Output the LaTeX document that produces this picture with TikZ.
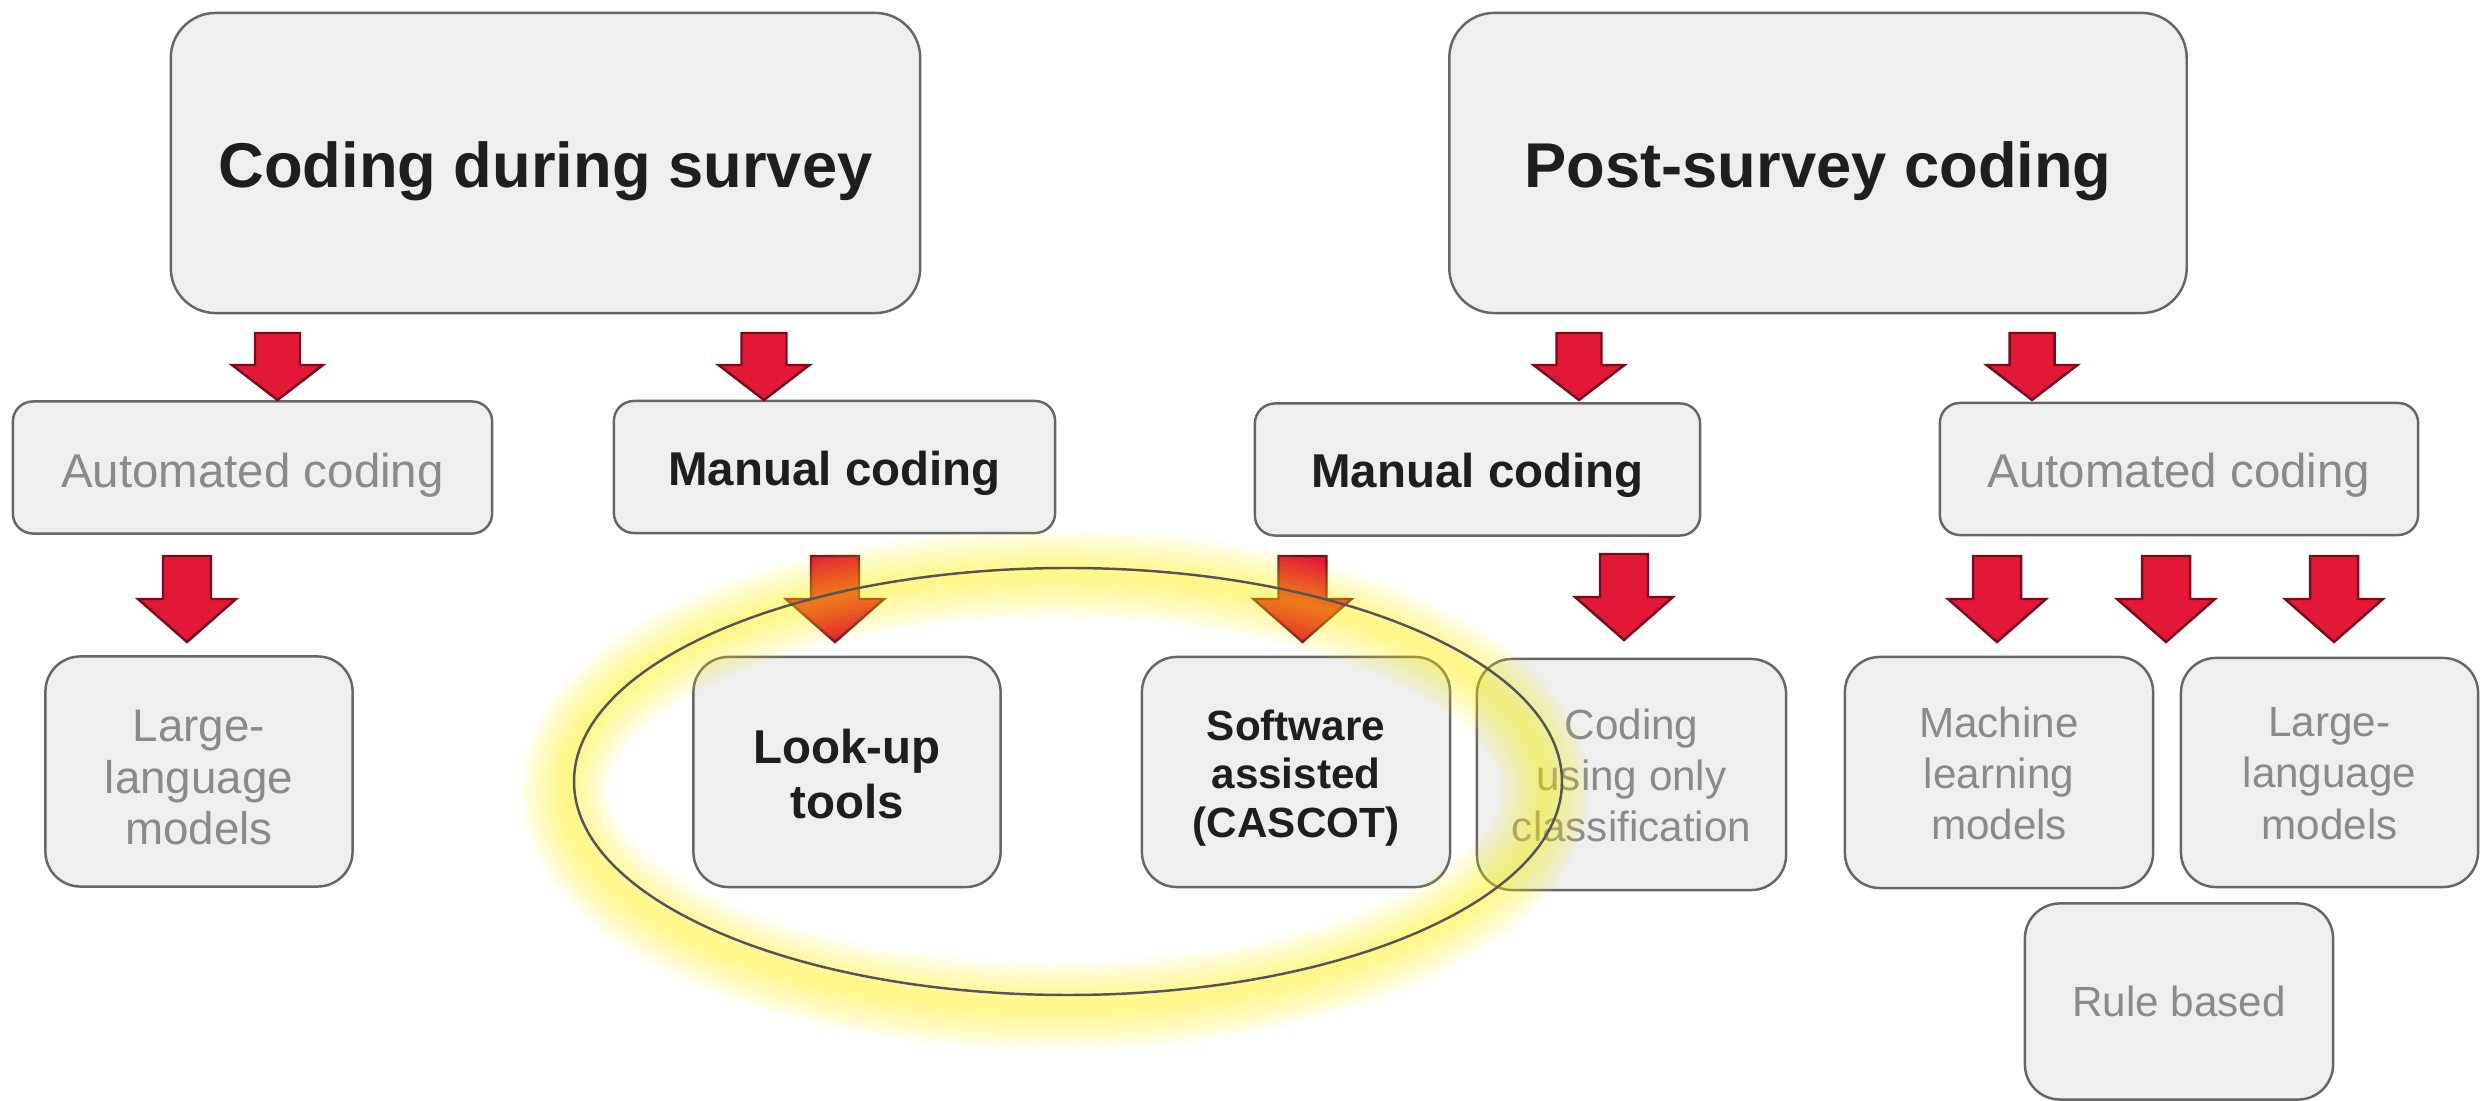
\documentclass[tikz,border=0pt]{standalone}
\usepackage{fontspec}
\setmainfont{Liberation Sans}
\usetikzlibrary{calc}
\definecolor{boxfill}{HTML}{EFEFEF}
\definecolor{boxline}{HTML}{666666}
\definecolor{greytext}{HTML}{8A8A8E}
\definecolor{darktext}{HTML}{1E1E1E}
\definecolor{arrowred}{HTML}{E31837}
\definecolor{arrowline}{HTML}{7A0A1E}
\definecolor{glowyellow}{RGB}{255,238,0}
\definecolor{ringline}{HTML}{555555}
\begin{document}
\begin{tikzpicture}[x=0.01cm,y=-0.01cm,
  box/.style={draw=boxline, fill=boxfill, line width=0.7pt, inner sep=0pt, anchor=center},
  bigbox/.style={box, rounded corners=0.45cm, minimum height=3.0cm},
  midbox/.style={box, rounded corners=0.2cm, minimum height=1.32cm},
  lowbox/.style={box, rounded corners=0.35cm, minimum width=3.07cm, minimum height=2.3cm},
  txt/.style={inner sep=0pt, align=center, anchor=center},
  titletxt/.style={txt, text=darktext, font=\bfseries\fontsize{18}{22}\selectfont},
  greymid/.style={txt, text=greytext, font=\fontsize{13.5}{16}\selectfont},
  darkmid/.style={txt, text=darktext, font=\bfseries\fontsize{13.5}{16}\selectfont},
  greysmall/.style={txt, text=greytext, font=\fontsize{12}{14.6}\selectfont},
  blockarr/.style={draw=arrowline, fill=arrowred, line width=0.7pt, line join=miter},
  arrA/.pic={\draw[blockarr] (-22.5,0) -- (22.5,0) -- (22.5,32) -- (45.5,32) -- (0,67)
      -- (-45.5,32) -- (-22.5,32) -- cycle;},
  arrB/.pic={\draw[blockarr] (-24,0) -- (24,0) -- (24,43) -- (49,43) -- (0,86)
      -- (-49,43) -- (-24,43) -- cycle;}
]
\useasboundingbox (0,0) rectangle (2481,1101);

% top level
\node[bigbox, minimum width=7.49cm] (cds) at (545.5,163) {};
\node[bigbox, minimum width=7.37cm] (psc) at (1818,163) {};
\node[titletxt] (cdsT) at ($(cds.center)+(0,8)$) {Coding during survey};
\node[titletxt] (pscT) at ($(psc.center)+(0,8)$) {Post-survey coding};

% second level
\node[midbox, minimum width=4.79cm] (autoL) at (252.5,467.5) {};
\node[midbox, minimum width=4.41cm] (manL) at (834.5,467) {};
\node[midbox, minimum width=4.45cm] (manR) at (1477.5,469.5) {};
\node[midbox, minimum width=4.78cm] (autoR) at (2179,469) {};
\node[greymid] (autoLT) at ($(autoL.center)+(0,8)$) {Automated coding};
\node[darkmid] (manLT) at ($(manL.center)+(0,6)$) {Manual coding};
\node[darkmid] (manRT) at ($(manR.center)+(0,6)$) {Manual coding};
\node[greymid] (autoRT) at ($(autoR.center)+(0,6)$) {Automated coding};

% third level
\node[lowbox] (llmL) at (199,771.5) {};
\node[lowbox] (lookup) at (847,772) {};
\node[lowbox, minimum width=3.08cm] (soft) at (1296,772) {};
\node[lowbox, minimum width=3.09cm, minimum height=2.31cm] (classif) at (1631.5,774.5) {};
\node[lowbox, minimum width=3.08cm, minimum height=2.31cm] (ml) at (1999,772.5) {};
\node[lowbox, minimum width=2.97cm, minimum height=2.29cm] (llmR) at (2329.5,772.5) {};
\node[lowbox, minimum width=3.08cm, minimum height=1.96cm] (rule) at (2179,1001.5) {};

\node[txt, text=greytext, font=\fontsize{13}{14.6}\selectfont] (llmLT) at ($(llmL.center)+(0,6)$)
  {Large-\\language\\models};
\node[txt, text=darktext, font=\bfseries\fontsize{13.5}{15.6}\selectfont] (lookupT) at ($(lookup.center)+(0,2)$)
  {Look-up\\tools};
\node[txt, text=darktext, font=\bfseries\fontsize{12}{13.9}\selectfont] (softT) at ($(soft.center)+(0,6)$)
  {Software\\assisted\\(CASCOT)};
\node[txt, text=greytext, font=\fontsize{12}{14.6}\selectfont] (classifT) at ($(classif.center)+(0,1)$)
  {Coding\\using only\\classification};
\node[greysmall] (mlT) at ($(ml.center)+(0,1)$) {Machine\\learning\\models};
\node[greysmall] (llmRT) at ($(llmR.center)+(0,1)$) {Large-\\language\\models};
\node[greysmall] (ruleT) at (rule.center) {Rule based};

% block arrows, first row
\pic (a1) at (277.5,333) {arrA};
\pic (a2) at (764,333) {arrA};
\pic (a3) at (1579,333) {arrA};
\pic (a4) at (2032,333) {arrA};

% block arrows, second row
\pic (b1) at (187,556) {arrB};
\pic (b2) at (835,556) {arrB};
\pic (b3) at (1302.5,556) {arrB};
\pic (b4) at (1624,554) {arrB};
\pic (b5) at (1997,556) {arrB};
\pic (b6) at (2166,556) {arrB};
\pic (b7) at (2334,556) {arrB};

% glowing highlight ring
\coordinate (glowc) at (1055,790);
\coordinate (ringc) at (1068,781.5);
\foreach \w in {11,10,...,1}{
  \pgfmathsetmacro\lw{\w*2.3}
  \draw[glowyellow, opacity=0.055, line width=\lw pt] (glowc) ellipse [x radius=490, y radius=216];
}
\draw[ringline, line width=0.7pt] (ringc) ellipse [x radius=494, y radius=213.5];
\end{tikzpicture}
\end{document}
